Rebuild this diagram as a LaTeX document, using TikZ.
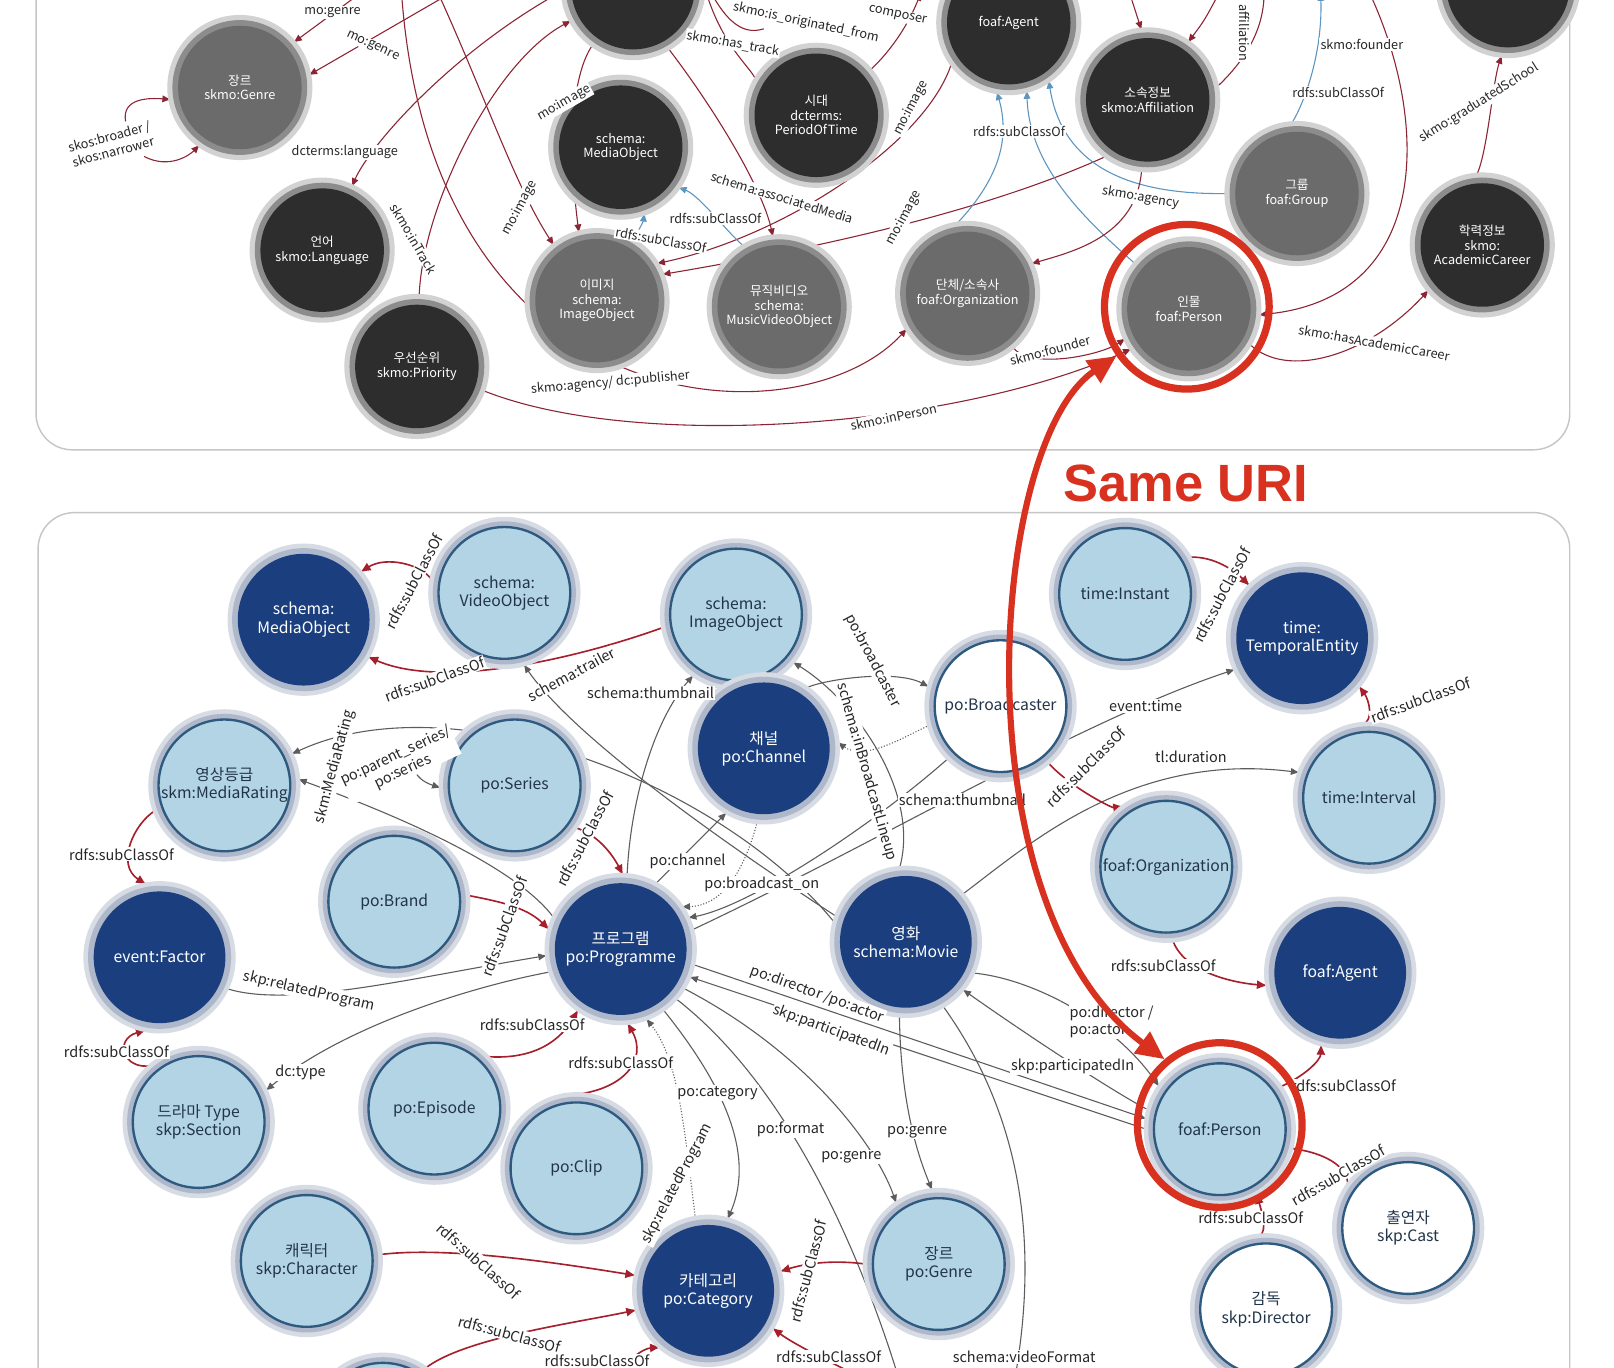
\documentclass[tikz,border=0pt]{standalone}
\usepackage{fontspec}
\setmainfont{Noto Sans CJK KR}
\newfontfamily\urifont{Liberation Sans}
\usetikzlibrary{arrows.meta}
\pgfdeclarelayer{back}
\pgfdeclarelayer{wires}
\pgfsetlayers{back,wires,main}

\definecolor{nodeDark}{HTML}{2D2D2D}
\definecolor{nodeMid}{HTML}{6B6B6B}
\definecolor{haloGrey}{HTML}{9C9C9C}
\definecolor{navy}{HTML}{1B3F7E}
\definecolor{paleBlue}{HTML}{B3D4E4}
\definecolor{rimBlue}{HTML}{2E5A80}
\definecolor{haloBlue}{HTML}{AEB8CA}
\definecolor{textNavy}{HTML}{22344A}
\definecolor{wireRed}{HTML}{8C2434}
\definecolor{wireBlue}{HTML}{5B95C0}
\definecolor{wireGrey}{HTML}{5C5C5C}
\definecolor{subRed}{HTML}{A5202C}
\definecolor{uriRed}{HTML}{D8311F}

\begin{document}
\begin{tikzpicture}[
    x=0.02cm, y=-0.02cm,
    topNode/.style={circle, minimum size=2.4cm, inner sep=0pt, outer sep=0.15cm, align=center, text=white,
        font=\fontsize{7}{8}\selectfont,
        preaction={draw=haloGrey!45, line width=0.42cm},
        preaction={draw=haloGrey!90!black, line width=0.22cm}},
    topDark/.style={topNode, fill=nodeDark},
    topGrey/.style={topNode, fill=nodeMid},
    botNode/.style={circle, minimum size=2.56cm, inner sep=0pt, outer sep=0.15cm, align=center,
        font=\fontsize{8.7}{10}\selectfont,
        preaction={draw=haloBlue!50, line width=0.4cm},
        preaction={draw=haloBlue, line width=0.22cm}},
    paleNode/.style={botNode, fill=paleBlue, draw=rimBlue, line width=1.3pt, text=textNavy},
    navyNode/.style={botNode, fill=navy, text=white},
    whiteNode/.style={botNode, fill=white, draw=rimBlue, line width=1.3pt, text=textNavy},
    ring/.style={circle, draw=uriRed, line width=4pt, minimum size=3.2cm},
    topRed/.style={draw=wireRed, line width=0.6pt, -{Latex[length=5pt,width=4pt]}},
    topBlue/.style={draw=wireBlue, line width=0.6pt, -{Latex[length=5pt,width=4pt]}},
    wire/.style={draw=wireGrey, line width=0.6pt, -{Latex[length=5pt,width=4pt]}},
    wireDot/.style={wire, densely dotted},
    subLink/.style={draw=subRed, line width=0.9pt, -{Latex[length=6pt,width=5pt]}},
    tLbl/.style={font=\fontsize{7}{8.5}\selectfont, text=black!85, fill=white, inner sep=0.6pt, align=center},
    bLbl/.style={font=\fontsize{8}{9.5}\selectfont, text=black!85, fill=white, inner sep=0.6pt, align=center}
]
\useasboundingbox (0,0) rectangle (1568,1329);

% Panels
\begin{pgfonlayer}{back}
\fill[white] (0,0) rectangle (1568,1329);
\draw[gray!45, line width=0.8pt, rounded corners=20] (35,-40) rectangle (1525,437);
\draw[gray!45, line width=0.8pt, rounded corners=20] (37,498) rectangle (1525,1400);
\end{pgfonlayer}

% Upper graph
\node[topGrey] (gGenre) at (233,85) {장르\\skmo:Genre};
\node[topDark] (gLang) at (313,243) {언어\\skmo:Language};
\node[topDark] (gPrio) at (405,356) {우선순위\\skmo:Priority};
\node[topDark] (gTrack) at (615,-12) {};
\node[topDark] (gMedia) at (603,143) {schema:\\MediaObject};
\node[topDark] (gPeriod) at (793,112) {시대\\dcterms:\\PeriodOfTime};
\node[topDark] (gAgent) at (980,22) {foaf:Agent};
\node[topDark] (gAffil) at (1115,97) {소속정보\\skmo:Affiliation};
\node[topDark] (gSchool) at (1465,-14) {};
\node[topGrey] (gGroup) at (1260,188) {그룹\\foaf:Group};
\node[topDark] (gCareer) at (1440,238) {학력정보\\skmo:\\AcademicCareer};
\node[topGrey] (gPerson) at (1155,300) {인물\\foaf:Person};
\node[topGrey] (gOrg) at (940,285) {단체/소속사\\foaf:Organization};
\node[topGrey] (gMusic) at (757,298) {뮤직비디오\\schema:\\MusicVideoObject};
\node[topGrey] (gImage) at (580,292) {이미지\\schema:\\ImageObject};

\coordinate (cA) at (352,-8);
\coordinate (cB) at (440,-8);
\coordinate (cC) at (545,-8);
\coordinate (cE) at (390,-8);
\coordinate (cF) at (425,-8);
\coordinate (cG) at (1228,-8);
\coordinate (cH) at (742,28);
\coordinate (cI) at (895,-8);
\coordinate (cJ) at (1283,-8);
\coordinate (cK) at (1330,-8);
\coordinate (cL) at (1097,-8);
\coordinate (cN) at (1185,-8);
\coordinate (cLoopA) at (122,118);
\coordinate (cLoopB) at (140,152);

\begin{pgfonlayer}{wires}
\draw[topRed] (cA) -- (gGenre.40);
\draw[topRed] (cB) -- (gGenre.10);
\draw[topRed] (cLoopA) .. controls (118,95) and (145,95) .. (gGenre.190);
\draw[topRed] (cLoopB) .. controls (165,165) and (185,150) .. (gGenre.235);
\draw[topRed] (cC) .. controls (440,50) and (360,140) .. (gLang.65);
\draw[topRed] (gPrio) .. controls (410,200) and (480,60) .. (gTrack);
\draw[topRed] (cF) .. controls (470,90) and (500,180) .. (gImage.128);
\draw[topRed] (gTrack) .. controls (550,80) and (555,170) .. (gImage.105);
\draw[topRed] (cG) .. controls (1230,130) and (950,215) .. (gImage.22);
\draw[topRed] (gAgent.215) .. controls (900,140) and (760,230) .. (gImage.32);
\draw[topRed] (gTrack.300) .. controls (690,100) and (740,180) .. (gMusic.95);
\draw[topRed] (gPeriod.150) .. controls (730,65) and (700,45) .. (gTrack.10);
\draw[topRed] (cH) .. controls (720,35) and (700,20) .. (gTrack.30);
\draw[topRed] (gPeriod.40) .. controls (860,55) and (880,30) .. (cI);
\draw[topBlue] (gImage.60) .. controls (615,235) and (625,215) .. (gMedia.290);
\draw[topBlue] (gMusic.120) .. controls (710,230) and (680,190) .. (gMedia.325);
\draw[topBlue] (gOrg.100) .. controls (975,170) and (980,130) .. (gAgent.260);
\draw[topBlue] (gPerson.140) .. controls (1050,210) and (1000,160) .. (gAgent.285);
\draw[topBlue] (gGroup.180) .. controls (1080,190) and (1030,150) .. (gAgent.305);
\draw[topBlue] (gGroup.95) .. controls (1262,110) and (1285,60) .. (cJ);
\draw[topRed] (cK) .. controls (1390,120) and (1390,290) .. (gPerson.355);
\draw[topRed] (gCareer.95) .. controls (1445,150) and (1450,80) .. (gSchool.265);
\draw[topRed] (gPerson.330) .. controls (1250,370) and (1330,345) .. (gCareer.220);
\draw[topRed] (gAffil.265) .. controls (1105,230) and (1040,245) .. (gOrg.25);
\draw[topRed] (gOrg.310) .. controls (1000,360) and (1070,345) .. (gPerson.205);
\draw[topRed] (gPrio.340) .. controls (620,440) and (930,415) .. (gPerson.215);
\draw[topRed] (cE) .. controls (420,420) and (780,430) .. (gOrg.210);
\draw[topRed] (cL) -- (gAffil.95);
\draw[topRed] (cN) .. controls (1170,20) .. (gAffil.55);
\end{pgfonlayer}

\node[tLbl] (t1) at (323,12) {mo:genre};
\node[tLbl, rotate=-25] (t2) at (362,45) {mo:genre};
\node[tLbl, rotate=15] (t3) at (108,140) {skos:broader /\\skos:narrower};
\node[tLbl] (t4) at (335,148) {dcterms:language};
\node[tLbl, rotate=-60] (t5) at (402,232) {skmo:inTrack};
\node[tLbl, rotate=62] (t6) at (505,202) {mo:image};
\node[tLbl, rotate=30] (t7) at (548,100) {mo:image};
\node[tLbl, rotate=-10] (t8) at (712,42) {skmo:has\_track};
\node[tLbl, rotate=-12] (t9) at (783,22) {skmo:is\_originated\_from};
\node[tLbl, rotate=-12] (t10) at (872,15) {composer};
\node[tLbl, rotate=62] (t11) at (885,105) {mo:image};
\node[tLbl, rotate=62] (t12) at (878,212) {mo:image};
\node[tLbl, rotate=-17] (t13) at (760,192) {schema:associatedMedia};
\node[tLbl] (t14) at (695,212) {rdfs:subClassOf};
\node[tLbl, rotate=-10] (t15) at (642,233) {rdfs:subClassOf};
\node[tLbl] (t16) at (990,128) {rdfs:subClassOf};
\node[tLbl] (t17) at (1300,90) {rdfs:subClassOf};
\node[tLbl] (t18) at (1323,43) {skmo:founder};
\node[tLbl, rotate=32] (t19) at (1437,100) {skmo:graduatedSchool};
\node[tLbl, rotate=-10] (t20) at (1108,192) {skmo:agency};
\node[tLbl, rotate=15] (t21) at (1020,340) {skmo:founder};
\node[tLbl, rotate=-10] (t22) at (1335,333) {skmo:hasAcademicCareer};
\node[tLbl, rotate=5] (t23) at (593,372) {skmo:agency/ dc:publisher};
\node[tLbl, rotate=12] (t24) at (868,405) {skmo:inPerson};
\node[tLbl, rotate=-90] (t25) at (1209,32) {affiliation};

% Lower graph
\node[navyNode] (bMedia) at (295,602) {schema:\\MediaObject};
\node[paleNode] (bVideo) at (490,576) {schema:\\VideoObject};
\node[paleNode] (bImage) at (715,597) {schema:\\ImageObject};
\node[navyNode] (bChannel) at (742,727) {채널\\po:Channel};
\node[whiteNode] (bBroad) at (972,686) {po:Broadcaster};
\node[paleNode] (bInstant) at (1093,577) {time:Instant};
\node[navyNode] (bTemporal) at (1265,620) {time:\\TemporalEntity};
\node[paleNode] (bInterval) at (1330,775) {time:Interval};
\node[paleNode] (bOrg) at (1133,842) {foaf:Organization};
\node[navyNode] (bAgent) at (1302,945) {foaf:Agent};
\node[paleNode] (bPerson) at (1185,1097) {foaf:Person};
\node[whiteNode] (bCast) at (1368,1193) {출연자\\skp:Cast};
\node[whiteNode] (bDirector) at (1230,1272) {감독\\skp:Director};
\node[paleNode] (bGenre) at (912,1228) {장르\\po:Genre};
\node[navyNode] (bCategory) at (688,1254) {카테고리\\po:Category};
\node[paleNode] (bCharacter) at (298,1225) {캐릭터\\skp:Character};
\node[paleNode] (bClip) at (560,1135) {po:Clip};
\node[paleNode] (bEpisode) at (422,1077) {po:Episode};
\node[paleNode] (bSection) at (193,1090) {드라마 Type\\skp:Section};
\node[navyNode] (bFactor) at (155,930) {event:Factor};
\node[paleNode] (bRating) at (218,763) {영상등급\\skm:MediaRating};
\node[paleNode] (bSeries) at (500,763) {po:Series};
\node[paleNode] (bBrand) at (383,876) {po:Brand};
\node[navyNode] (bProg) at (603,922) {프로그램\\po:Programme};
\node[navyNode] (bMovie) at (880,915) {영화\\schema:Movie};
\node[paleNode] (bSpare) at (372,1388) {};

\coordinate (cFormat) at (875,1345);
\coordinate (cVideoFmt) at (985,1345);
\coordinate (cSubA) at (850,1345);
\coordinate (cSubB) at (590,1345);

\begin{pgfonlayer}{wires}
\draw[subLink] (bVideo.170) .. controls (410,548) and (375,540) .. (bMedia.40);
\draw[subLink] (bImage.190) .. controls (560,640) and (430,670) .. (bMedia.330);
\draw[wire] (bMovie.160) .. controls (720,830) and (560,720) .. (bVideo.285);
\draw[wire] (bProg.85) .. controls (612,780) and (635,700) .. (bImage.235);
\draw[wire] (bMovie.95) .. controls (895,770) and (830,680) .. (bImage.320);
\draw[wire] (bChannel.55) .. controls (800,660) and (870,650) .. (bBroad.165);
\draw[wireDot] (bBroad.195) .. controls (880,715) and (840,740) .. (bChannel.5);
\draw[wire] (bProg.62) -- (bChannel.240);
\draw[wireDot] (bChannel.265) .. controls (722,850) and (700,880) .. (bProg.35);
\draw[wire] (bBroad.225) .. controls (850,800) and (730,880) .. (bProg.25);
\draw[wire] (bProg.15) .. controls (850,820) and (1050,700) .. (bTemporal.205);
\draw[wire] (bMovie.40) .. controls (1000,820) and (1100,730) .. (bInterval.160);
\draw[subLink] (bInstant.30) .. controls (1180,540) and (1200,555) .. (bTemporal.135);
\draw[subLink] (bInterval.95) .. controls (1335,700) and (1330,680) .. (bTemporal.320);
\draw[subLink] (bBroad.310) .. controls (1040,765) and (1080,785) .. (bOrg.125);
\draw[subLink] (bOrg.275) .. controls (1150,945) and (1200,955) .. (bAgent.190);
\draw[subLink] (bPerson.35) .. controls (1268,1045) and (1283,1030) .. (bAgent.255);
\draw[subLink] (bCast.145) .. controls (1310,1130) and (1280,1120) .. (bPerson.345);
\draw[subLink] (bDirector.95) .. controls (1232,1195) and (1225,1175) .. (bPerson.300);
\draw[wire] (bMovie.335) .. controls (1000,950) and (1080,990) .. (bPerson.145);
\draw[wire] (bPerson.165) .. controls (1080,1060) and (990,1000) .. (bMovie.320);
\draw[wire] (bProg.348) -- (bPerson.172);
\draw[wire] (bPerson.180) -- (bProg.338);
\draw[wire] (bMovie.165) .. controls (700,760) and (440,660) .. (bRating.25);
\draw[wire] (bProg.155) .. controls (500,840) and (380,790) .. (bRating.5);
\draw[wire] (bSeries.150) .. controls (405,690) and (380,750) .. (bSeries.182);
\draw[subLink] (bSeries.325) .. controls (580,810) and (595,830) .. (bProg.88);
\draw[subLink] (bBrand.5) .. controls (480,875) and (510,880) .. (bProg.165);
\draw[subLink] (bRating.200) .. controls (130,800) and (112,840) .. (bFactor.100);
\draw[subLink] (bSection.130) .. controls (120,1040) and (110,1010) .. (bFactor.260);
\draw[wire] (bFactor.335) .. controls (280,980) and (400,950) .. (bProg.185);
\draw[wire] (bProg.198) .. controls (450,960) and (330,1000) .. (bSection.25);
\draw[subLink] (bEpisode.45) .. controls (520,1030) and (545,1010) .. (bProg.235);
\draw[subLink] (bClip.95) .. controls (605,1060) and (630,1030) .. (bProg.275);
\draw[wire] (bProg.305) .. controls (700,1050) and (735,1120) .. (bCategory.75);
\draw[wireDot] (bCategory.100) .. controls (665,1100) and (660,1030) .. (bProg.290);
\draw[wire] (bProg.318) .. controls (760,1050) and (830,1200) .. (cFormat);
\draw[wire] (bProg.328) .. controls (780,1020) and (850,1110) .. (bGenre.125);
\draw[wire] (bMovie.265) .. controls (875,1080) and (895,1130) .. (bGenre.95);
\draw[wire] (bMovie.300) .. controls (990,1080) and (1010,1200) .. (cVideoFmt);
\draw[subLink] (bCharacter.5) .. controls (440,1210) and (560,1230) .. (bCategory.168);
\draw[subLink] (bSpare.55) .. controls (450,1300) and (560,1285) .. (bCategory.195);
\draw[subLink] (bGenre.180) .. controls (820,1225) and (790,1225) .. (bCategory.15);
\draw[subLink] (cSubA) .. controls (800,1320) and (770,1305) .. (bCategory.330);
\draw[subLink] (cSubB) .. controls (610,1320) and (625,1310) .. (bCategory.230);
\end{pgfonlayer}

\node[bLbl, rotate=62] (u1) at (402,565) {rdfs:subClassOf};
\node[bLbl, rotate=20] (u2) at (422,660) {rdfs:subClassOf};
\node[bLbl, rotate=28] (u3) at (555,655) {schema:trailer};
\node[bLbl] (u4) at (632,673) {schema:thumbnail};
\node[bLbl, rotate=-62] (u5) at (848,642) {po:broadcaster};
\node[bLbl, rotate=-74] (u6) at (842,750) {schema:inBroadcastLineup};
\node[bLbl] (u7) at (935,777) {schema:thumbnail};
\node[bLbl] (u8) at (1113,686) {event:time};
\node[bLbl, rotate=62] (u9) at (1187,578) {rdfs:subClassOf};
\node[bLbl, rotate=20] (u10) at (1380,680) {rdfs:subClassOf};
\node[bLbl] (u11) at (1157,735) {tl:duration};
\node[bLbl, rotate=45] (u12) at (1055,745) {rdfs:subClassOf};
\node[bLbl] (u13) at (1130,938) {rdfs:subClassOf};
\node[bLbl] (u14) at (1305,1055) {rdfs:subClassOf};
\node[bLbl, rotate=30] (u15) at (1300,1142) {rdfs:subClassOf};
\node[bLbl] (u16) at (1215,1183) {rdfs:subClassOf};
\node[bLbl, align=left] (u17) at (1080,993) {po:director /\\po:actor};
\node[bLbl] (u18) at (1042,1036) {skp:participatedIn};
\node[bLbl, rotate=-20] (u19) at (794,966) {po:director /po:actor};
\node[bLbl, rotate=-20] (u20) at (808,1001) {skp:participatedIn};
\node[bLbl, rotate=75] (u21) at (325,745) {skm:MediaRating};
\node[bLbl, rotate=25] (u22) at (388,742) {po:parent\_series/\\po:series};
\node[bLbl, rotate=62] (u23) at (568,815) {rdfs:subClassOf};
\node[bLbl, rotate=70] (u24) at (490,900) {rdfs:subClassOf};
\node[bLbl] (u25) at (118,830) {rdfs:subClassOf};
\node[bLbl] (u26) at (113,1022) {rdfs:subClassOf};
\node[bLbl, rotate=-13] (u27) at (300,963) {skp:relatedProgram};
\node[bLbl] (u28) at (292,1042) {dc:type};
\node[bLbl] (u29) at (517,996) {rdfs:subClassOf};
\node[bLbl] (u30) at (603,1032) {rdfs:subClassOf};
\node[bLbl] (u31) at (697,1062) {po:category};
\node[bLbl, rotate=62] (u32) at (658,1150) {skp:relatedProgram};
\node[bLbl] (u33) at (768,1097) {po:format};
\node[bLbl] (u34) at (827,1124) {po:genre};
\node[bLbl] (u35) at (891,1100) {po:genre};
\node[bLbl] (u36) at (995,1318) {schema:videoFormat};
\node[bLbl, rotate=-42] (u37) at (465,1225) {rdfs:subClassOf};
\node[bLbl, rotate=-15] (u38) at (495,1296) {rdfs:subClassOf};
\node[bLbl, rotate=75] (u39) at (785,1235) {rdfs:subClassOf};
\node[bLbl] (u40) at (805,1318) {rdfs:subClassOf};
\node[bLbl] (u41) at (580,1322) {rdfs:subClassOf};
\node[bLbl] (u42) at (668,837) {po:channel};
\node[bLbl] (u43) at (740,859) {po:broadcast\_on};

% Same URI link
\node[ring] (ringTop) at (1153,298) {};
\node[ring] (ringBot) at (1185,1093) {};
\draw[uriRed, line width=3.4pt, {Triangle[length=0.55cm,width=0.5cm]}-{Triangle[length=0.55cm,width=0.5cm]}]
    (ringTop.215) .. controls (960,430) and (930,880) .. (ringBot.130);
\node[font=\urifont\bfseries\fontsize{29}{30}\selectfont, text=uriRed] (sameUri) at (1152,470) {Same URI};
\end{tikzpicture}
\end{document}
